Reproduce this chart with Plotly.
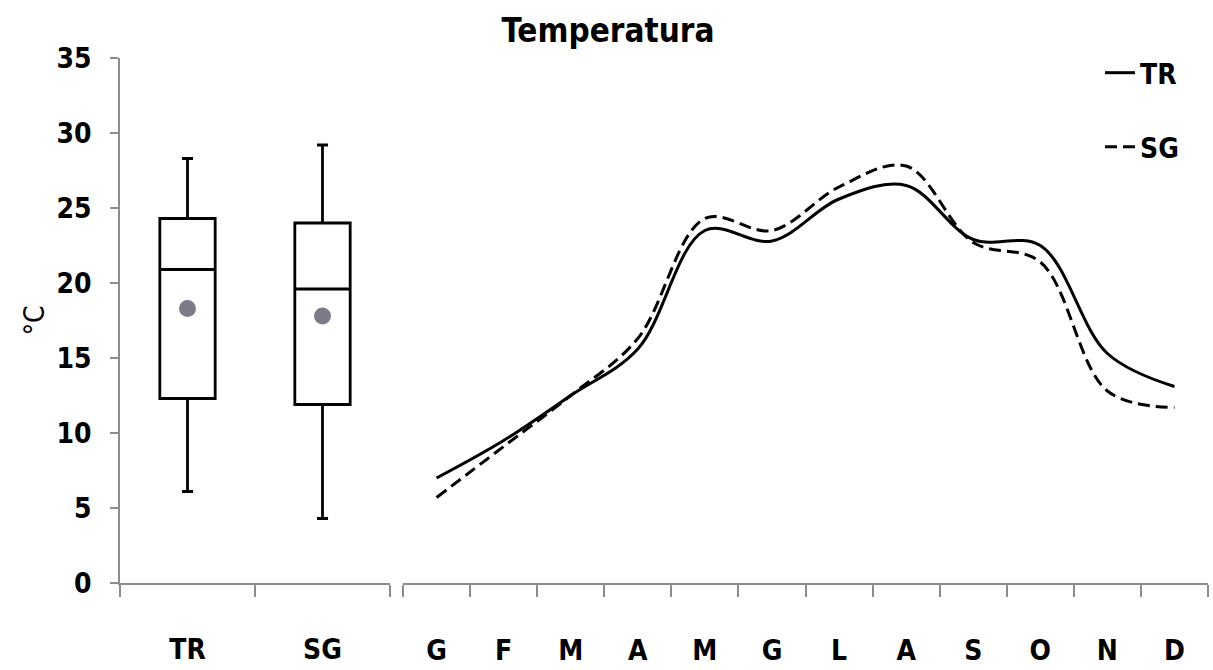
import plotly.graph_objects as go

# ---- data ----
groups = ["TR", "SG"]
box_q1 = [12.3, 11.9]
box_median = [20.9, 19.6]
box_q3 = [24.3, 24.0]
box_low = [6.1, 4.3]
box_high = [28.3, 29.2]
box_mean = [18.3, 17.8]

months = ["G", "F", "M", "A", "M", "G", "L", "A", "S", "O", "N", "D"]
tr_vals = [7.0, 9.5, 12.5, 15.6, 23.5, 22.8, 25.6, 26.5, 22.9, 22.5, 15.3, 13.1]
sg_vals = [5.7, 9.1, 12.5, 16.3, 24.3, 23.5, 26.4, 27.8, 22.7, 21.4, 12.8, 11.7]

W, H = 1213, 670
FONT = "Liberation Sans Narrow, DejaVu Sans Condensed, Lato"
GRAY = "#8c8c8c"

fig = go.Figure()

fig.add_trace(go.Box(
    x=groups, q1=box_q1, median=box_median, q3=box_q3,
    lowerfence=box_low, upperfence=box_high,
    fillcolor="white", line=dict(color="black", width=2.8),
    width=0.41, whiskerwidth=0.2, boxpoints=False,
    showlegend=False, hoverinfo="skip", xaxis="x", yaxis="y",
))
fig.add_trace(go.Scatter(
    x=groups, y=box_mean, mode="markers",
    marker=dict(color="#7e7b89", size=17),
    showlegend=False, xaxis="x", yaxis="y",
))

xi = list(range(len(months)))
fig.add_trace(go.Scatter(
    x=xi, y=tr_vals, mode="lines", name="TR",
    line=dict(color="black", width=3, shape="spline", smoothing=1.0),
    xaxis="x2", yaxis="y2", legend="legend",
))
fig.add_trace(go.Scatter(
    x=xi, y=sg_vals, mode="lines", name="SG",
    line=dict(color="black", width=3, dash="12px,6px", shape="spline", smoothing=1.0),
    xaxis="x2", yaxis="y2", legend="legend2",
))

ydom = [(H - 583) / H, (H - 58) / H]
tickfont = dict(family=FONT, size=28, color="black", weight="bold")

fig.update_layout(
    width=W, height=H,
    margin=dict(l=0, r=0, t=0, b=0, autoexpand=False),
    paper_bgcolor="white", plot_bgcolor="white",
    title=dict(text="Temperatura", x=608 / W, xanchor="center", y=(H - 30) / H,
               yanchor="middle", font=dict(family=FONT, size=33, color="black", weight="bold"),
               automargin=False),
    xaxis=dict(
        domain=[120 / W, 390 / W], type="category", range=[-0.5, 1.5],
        showline=True, linecolor=GRAY, linewidth=1.5,
        ticks="outside", tickson="boundaries", ticklen=12, tickcolor=GRAY, tickwidth=1.5,
        showgrid=False, zeroline=False, tickfont=tickfont, ticklabelstandoff=41,
        anchor="y", automargin=False,
    ),
    yaxis=dict(
        domain=ydom, range=[0, 35], dtick=5,
        showline=True, linecolor=GRAY, linewidth=1.5,
        ticks="outside", ticklen=8, tickcolor=GRAY, tickwidth=1.5,
        showgrid=False, zeroline=False, tickfont=tickfont, ticklabelstandoff=13,
        title=dict(text="°C", font=dict(family=FONT, size=28, color="black"), standoff=4),
        anchor="x", automargin=False,
    ),
    xaxis2=dict(
        domain=[403 / W, 1208 / W], range=[-0.5, 11.5],
        tickvals=xi, ticktext=months, ticks="",
        minor=dict(tickvals=[k - 0.5 for k in range(len(months) + 1)], ticks="outside",
                   ticklen=12, tickcolor=GRAY, tickwidth=1.5, showgrid=False),
        showline=True, linecolor=GRAY, linewidth=1.5,
        showgrid=False, zeroline=False, tickfont=tickfont, ticklabelstandoff=42,
        anchor="y2", automargin=False,
    ),
    yaxis2=dict(domain=ydom, range=[0, 35], visible=False, anchor="x2"),
    legend=dict(x=1100 / W, y=(H - 73) / H, xanchor="left", yanchor="middle",
                bgcolor="rgba(0,0,0,0)", font=dict(family=FONT, size=28, color="black", weight="bold")),
    legend2=dict(x=1100 / W, y=(H - 147) / H, xanchor="left", yanchor="middle",
                 bgcolor="rgba(0,0,0,0)", font=dict(family=FONT, size=28, color="black", weight="bold")),
)

fig.write_html("out.html")
